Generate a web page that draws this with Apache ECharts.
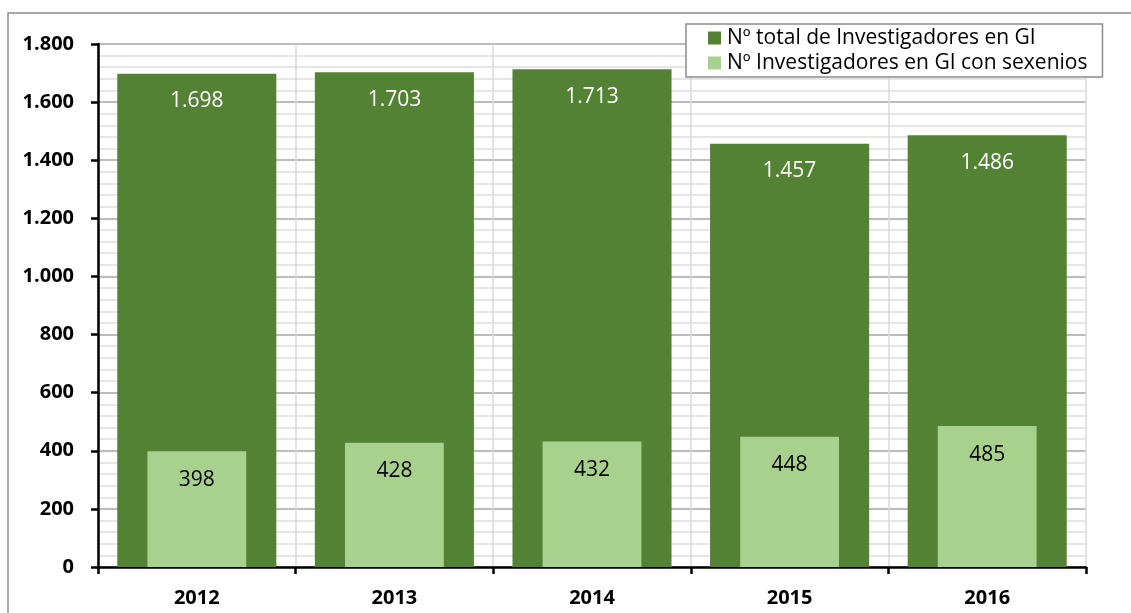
<!DOCTYPE html>
<html>
<head>
<meta charset="utf-8">
<script src="https://cdn.jsdelivr.net/npm/echarts@6/dist/echarts.min.js"></script>
<style>
html,body{margin:0;padding:0;background:#fff;}
#chart{width:1131px;height:613px;}
</style>
</head>
<body>
<div id="chart"></div>
<script>
const categories = ['2012', '2013', '2014', '2015', '2016'];
const totalInvestigadores = [1698, 1703, 1713, 1457, 1486];
const conSexenios = [398, 428, 432, 448, 485];
const seriesNames = ['Nº total de Investigadores en GI', 'Nº Investigadores en GI con sexenios'];

function fmt(v) {
  return String(Math.round(v)).replace(/\B(?=(\d{3})+(?!\d))/g, '.');
}

const FONT = 'Open Sans';
const chart = echarts.init(document.getElementById('chart'), null, {renderer: 'canvas'});
chart.setOption({
  animation: false,
  backgroundColor: '#fff',
  graphic: [{
    type: 'rect',
    shape: {x: 8, y: 13, width: 1400, height: 800},
    style: {fill: 'none', stroke: '#8c8c8c', lineWidth: 1.5},
    z: -10, silent: true
  }],
  grid: {left: 98, right: 45, top: 44, bottom: 46, containLabel: false},
  legend: {
    orient: 'vertical',
    left: 686, top: 24,
    padding: [3, 15, 3, 22],
    backgroundColor: '#fff',
    borderColor: '#8c8c8c',
    borderWidth: 1.5,
    itemWidth: 13, itemHeight: 13, itemGap: 3,
    icon: 'rect',
    textStyle: {fontFamily: FONT, fontSize: 21, lineHeight: 22, color: '#000', padding: [0, 0, 0, 1]},
    data: seriesNames
  },
  xAxis: [{
    type: 'category',
    data: categories,
    boundaryGap: true,
    axisLine: {lineStyle: {color: '#000', width: 2.5}},
    axisTick: {show: true, length: 7, lineStyle: {color: '#000', width: 2.5}},
    axisLabel: {fontFamily: FONT, fontWeight: 'bold', fontSize: 20, color: '#000', margin: 21},
    splitLine: {show: true, lineStyle: {color: '#d9d9d9', width: 1.5}}
  }, {
    type: 'category',
    data: categories,
    show: false
  }],
  yAxis: {
    type: 'value',
    min: 0, max: 1800, interval: 200,
    axisLine: {show: true, lineStyle: {color: '#000', width: 2.5}},
    axisTick: {show: true, length: 7, lineStyle: {color: '#000', width: 2.5}},
    axisLabel: {fontFamily: FONT, fontWeight: 'bold', fontSize: 20, color: '#000', margin: 24, formatter: fmt},
    splitLine: {show: true, lineStyle: {color: '#a6a6a6', width: 1.5}},
    minorTick: {show: false, splitNumber: 5},
    minorSplitLine: {show: true, lineStyle: {color: '#dedede', width: 1.5}}
  },
  series: [{
    name: seriesNames[0],
    type: 'bar',
    xAxisIndex: 0,
    data: totalInvestigadores,
    barWidth: '80.5%',
    itemStyle: {color: '#548235'},
    label: {show: true, position: 'insideTop', distance: 17, color: '#fff', fontFamily: FONT, fontSize: 21, formatter: p => fmt(p.value)},
    z: 2
  }, {
    name: seriesNames[1],
    type: 'bar',
    xAxisIndex: 1,
    data: conSexenios,
    barWidth: '50%',
    itemStyle: {color: '#a9d18e'},
    label: {show: true, position: 'insideTop', distance: 18, color: '#000', fontFamily: FONT, fontSize: 21, formatter: p => fmt(p.value)},
    z: 3
  }]
});
</script>
</body>
</html>
